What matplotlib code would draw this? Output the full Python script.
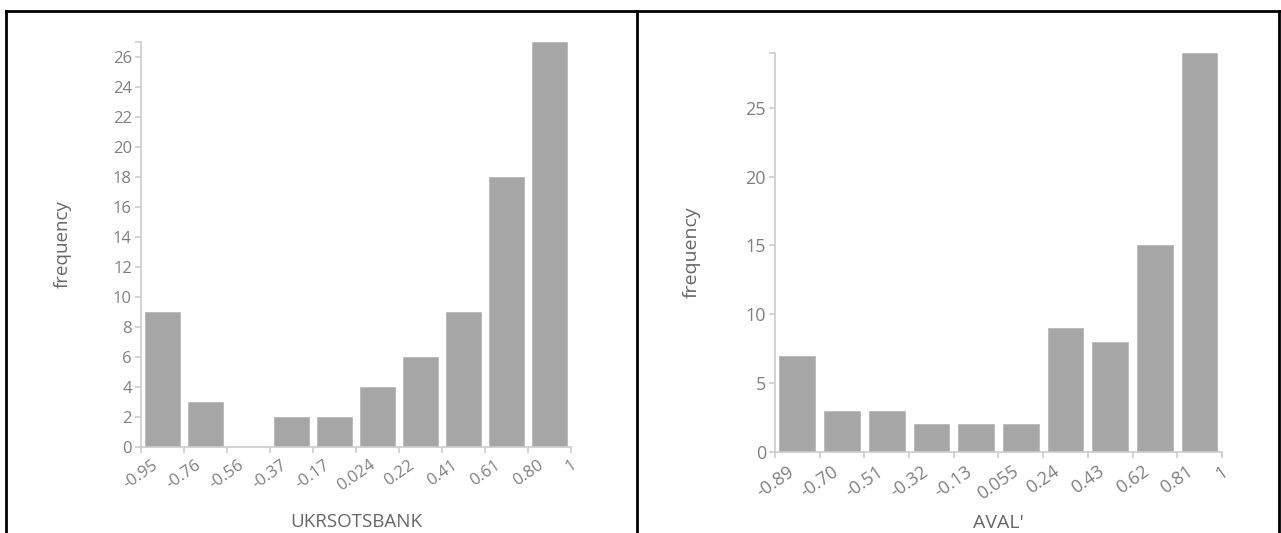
import matplotlib
matplotlib.use("Agg")
import matplotlib.pyplot as plt
from matplotlib.lines import Line2D

plt.rcParams["font.family"] = ["Open Sans", "DejaVu Sans"]

# bin edges and counts
ukr_edges = [-0.95, -0.755, -0.56, -0.365, -0.17, 0.025, 0.22, 0.415, 0.61, 0.805, 1.0]
ukr_labels = ["-0.95", "-0.76", "-0.56", "-0.37", "-0.17", "0.024", "0.22", "0.41", "0.61", "0.80", "1"]
ukr_counts = [9, 3, 0, 2, 2, 4, 6, 9, 18, 27]

aval_edges = [-0.89, -0.701, -0.512, -0.323, -0.134, 0.055, 0.244, 0.433, 0.622, 0.811, 1.0]
aval_labels = ["-0.89", "-0.70", "-0.51", "-0.32", "-0.13", "0.055", "0.24", "0.43", "0.62", "0.81", "1"]
aval_counts = [7, 3, 3, 2, 2, 2, 9, 8, 15, 29]

BAR = "#a6a6a6"
AXC = "#cccccc"
TXT = "#808080"
LAB = "#666666"


def histo(ax, edges, labels, counts, ymax, yticks, name, fs, lfs, xlab_y, ylab_x):
    widths = [edges[i + 1] - edges[i] for i in range(len(counts))]
    centers = [(edges[i] + edges[i + 1]) / 2 for i in range(len(counts))]
    ax.bar(centers, counts, width=[w * 0.8 for w in widths], color=BAR,
           edgecolor="#b8b8b8", linewidth=0.6)
    ax.set_xlim(edges[0], edges[-1])
    ax.set_ylim(0, ymax)
    for s in ("top", "right"):
        ax.spines[s].set_visible(False)
    for s in ("left", "bottom"):
        ax.spines[s].set_color(AXC)
        ax.spines[s].set_linewidth(1.2)
    ax.set_xticks(edges)
    ax.set_xticklabels(labels, rotation=35, ha="center", va="top")
    ax.set_yticks(yticks)
    ax.set_yticks([ymax], minor=True)
    ax.tick_params(axis="both", which="both", color=AXC, length=4.5, width=1.2,
                   labelcolor=TXT, labelsize=fs)
    ax.tick_params(axis="x", pad=3)
    ax.tick_params(axis="y", pad=2)
    ax.set_xlabel(name, fontsize=lfs, color=LAB)
    ax.xaxis.set_label_coords(0.5, xlab_y)
    ax.xaxis.label.set_va("center")
    ax.set_ylabel("frequency", fontsize=lfs, color=LAB)
    ax.yaxis.set_label_coords(ylab_x, 0.5)
    ax.yaxis.label.set_va("center")


fig = plt.figure(figsize=(12.81, 5.33), dpi=100)

ax1 = fig.add_axes([0.1101, 0.1619, 0.3357, 0.7598])
histo(ax1, ukr_edges, ukr_labels, ukr_counts, 27, list(range(0, 27, 2)),
      "UKRSOTSBANK", 12, 13.5, -0.185, -0.182)

ax2 = fig.add_axes([0.605, 0.152, 0.3489, 0.7492])
histo(ax2, aval_edges, aval_labels, aval_counts, 29, [0, 5, 10, 15, 20, 25],
      "AVAL'", 13, 14, -0.178, -0.186)

# panel borders
top = 1 - 11 / 533
for x in (6 / 1281, 637 / 1281, 1279 / 1281):
    fig.add_artist(Line2D([x, x], [0, top], color="black", linewidth=2,
                          transform=fig.transFigure))
fig.add_artist(Line2D([6 / 1281, 1279 / 1281], [top, top], color="black",
                      linewidth=2, transform=fig.transFigure))

fig.savefig("out.png", dpi=100)
